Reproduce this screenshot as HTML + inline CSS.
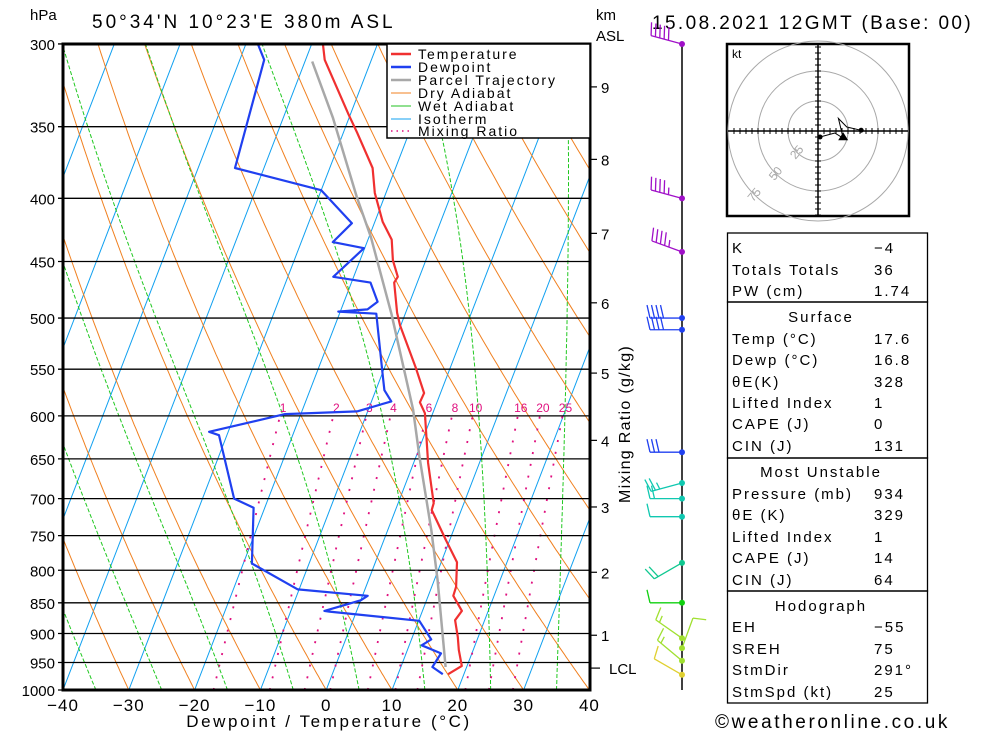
<!DOCTYPE html>
<html><head><meta charset="utf-8"><style>
html,body{margin:0;padding:0;background:#fff;}
svg{display:block;font-family:"Liberation Sans","DejaVu Sans",sans-serif;}
</style></head><body>
<svg id="chart" xmlns="http://www.w3.org/2000/svg" width="1000" height="733" viewBox="0 0 1000 733">
<defs><clipPath id="plotclip"><rect x="63" y="44" width="527" height="646"/></clipPath></defs>
<rect x="0" y="0" width="1000" height="733" fill="#fff"/>
<g id="bg" clip-path="url(#plotclip)"></g>
<g id="grid"></g>
<g id="series" clip-path="url(#plotclip)"></g>
<rect x="63" y="44" width="527" height="646" fill="none" stroke="#000" stroke-width="3"/>
<g id="axes"></g>
<text x="30" y="20" font-size="15">hPa</text>
<text x="92" y="28" font-size="19" letter-spacing="3">50°34'N  10°23'E  380m  ASL</text>
<text x="596" y="20" font-size="15">km</text>
<text x="596" y="41" font-size="15">ASL</text>
<text x="652" y="29" font-size="19" letter-spacing="2.4">15.08.2021  12GMT  (Base: 00)</text>
<text x="329" y="727" font-size="17" letter-spacing="2.6" text-anchor="middle">Dewpoint / Temperature (°C)</text>
<text transform="translate(630,424) rotate(-90)" font-size="16" letter-spacing="1.3" text-anchor="middle">Mixing Ratio (g/kg)</text>
<g>
<rect x="387" y="44" width="203" height="94" fill="#fff" stroke="#000" stroke-width="1.5"/>
<g font-size="14" letter-spacing="2">
<line x1="391" y1="54" x2="411" y2="54" stroke="#f03030" stroke-width="2.5"/><text x="418" y="59">Temperature</text>
<line x1="391" y1="67" x2="411" y2="67" stroke="#2040f0" stroke-width="2.5"/><text x="418" y="72">Dewpoint</text>
<line x1="391" y1="80" x2="411" y2="80" stroke="#a8a8a8" stroke-width="2.5"/><text x="418" y="85">Parcel Trajectory</text>
<line x1="391" y1="93" x2="411" y2="93" stroke="#f08020" stroke-width="1"/><text x="418" y="98">Dry Adiabat</text>
<line x1="391" y1="106" x2="411" y2="106" stroke="#20c020" stroke-width="1"/><text x="418" y="111">Wet Adiabat</text>
<line x1="391" y1="119" x2="411" y2="119" stroke="#10a0f0" stroke-width="1"/><text x="418" y="124">Isotherm</text>
<line x1="391" y1="131" x2="411" y2="131" stroke="#e0107f" stroke-width="1.5" stroke-dasharray="1.5,4"/><text x="418" y="136">Mixing Ratio</text>
</g></g>
<line x1="682" y1="44" x2="682" y2="690" stroke="#000" stroke-width="1.5"/>
<g id="barbs"></g>
<g id="hodo">
<rect x="727" y="44" width="182" height="172" fill="#fff" stroke="#000" stroke-width="2.5"/>
<text x="732" y="58" font-size="12">kt</text>
</g>
<g id="table" font-size="15" letter-spacing="2"></g>
<text x="715" y="728" font-size="19" letter-spacing="2.6">©weatheronline.co.uk</text>
<script>
// ---- data ----
const tempP = [300,309,342,354,378,396,418,432,449,463,468,495,507,548,575,585,597,655,706,715,756,788,825,839,863,878,906,928,956,971];
const tempT = [-38.3,-37.1,-30.3,-27.9,-23.5,-21.7,-18.8,-16.4,-15.0,-13.3,-13.5,-11.3,-10.1,-5.3,-2.5,-2.6,-1.2,2.2,5.4,5.5,9.4,12.4,13.7,13.8,16.0,15.5,16.9,17.8,19.2,17.6];
const dewP = [300,309,378,394,419,434,439,463,468,485,492,494,496,558,572,584,595,598,618,622,700,712,790,829,839,846,863,864,879,910,920,934,958,971];
const dewT = [-48.2,-46.3,-44.4,-30.0,-23.4,-25.2,-20.1,-23.1,-17.1,-14.9,-16.0,-20.3,-14.4,-9.7,-8.7,-7.0,-11.6,-22.4,-32.9,-31.2,-25.2,-21.7,-18.7,-10.2,0.8,0.0,-4.9,-4.1,10.1,13.0,11.9,15.3,14.8,16.8];
const parcelP = [310,344,399,430,496,593,647,742,815,958];
const parcelT = [-38.9,-32.5,-24.2,-19.7,-12.1,-3.2,0.5,6.6,10.5,16.8];
const pressureTicks = [300,350,400,450,500,550,600,650,700,750,800,850,900,950,1000];
const tempTicks = [-40,-30,-20,-10,0,10,20,30,40];
const kmTicks = [1,2,3,4,5,6,7,8,9];
const kmPressures = [903,803,711,628,554,486,427,372,325];
const lclPressure = 960;
const mixRatios = [1,2,3,4,6,8,10,16,20,25];
const barbP = [300,400,442,500,511,642,680,700,724,789,850,908,925,947,972];
const barbDir = [285,285,290,270,270,270,255,270,270,240,270,305,20,310,300];
const barbSpd = [50,45,45,40,40,30,25,20,10,20,10,15,10,15,10];
const hodoU = [1.7,14,21,17,24,36];
const hodoV = [-5,-1.7,-6,10.5,3.3,0.6];
const statLabels = ["K","Totals Totals","PW (cm)","Temp (°C)","Dewp (°C)","θE(K)","Lifted Index","CAPE (J)","CIN (J)","Pressure (mb)","θE (K)","Lifted Index","CAPE (J)","CIN (J)","EH","SREH","StmDir","StmSpd (kt)"];
const statValues = ["−4","36","1.74","17.6","16.8","328","1","0","131","934","329","1","14","64","−55","75","291°","25"];

// ---- axes ----
const NS="http://www.w3.org/2000/svg";
const X0=63, DX=6.58, YB=690, YS=536.6, SKEW=0.385;
function yP(p){return YB - Math.log(1000/p)*YS;}
function xT(t,p){return X0 + (t+40)*DX + SKEW*(YB - yP(p));}
function el(tag,attrs,parent){const e=document.createElementNS(NS,tag);for(const k in attrs)e.setAttribute(k,attrs[k]);parent.appendChild(e);return e;}
function pathFrom(pts){return pts.map((q,i)=>(i?'L':'M')+q[0].toFixed(1)+','+q[1].toFixed(1)).join('');}

const bg=document.getElementById('bg');
const pList=[];for(let p=1000;p>=290;p-=5)pList.push(p);
for(let t=-130;t<=40;t+=10){
  const e=el('path',{d:pathFrom([[xT(t,1000),yP(1000)],[xT(t,290),yP(290)]]),stroke:'#10a0f0','stroke-width':1,fill:'none'},bg);
  
  
}
for(let th=213.15;th<=563.15;th+=10){
  const pts=pList.map(p=>[xT(th*Math.pow(p/1000,0.286)-273.15,p),yP(p)]);
  const e=el('path',{d:pathFrom(pts),stroke:'#f08020','stroke-width':1,fill:'none'},bg);
  
  
}
function es(tc){return 6.112*Math.exp(17.67*tc/(tc+243.5));}
for(let t0=-55;t0<=35;t0+=10){
  let T=t0+273.15;const pts=[];
  for(let p=1000;p>=290;p-=5){
    pts.push([xT(T-273.15,p),yP(p)]);
    const e=es(T-273.15), rs=0.622*e/(p-e);
    const num=287*T+2.5e6*rs, den=1004+2.5e6*2.5e6*rs*0.622/(287*T*T);
    T-= num/den/p*5;
  }
  const e=el('path',{d:pathFrom(pts),stroke:'#20c820','stroke-width':1,fill:'none','stroke-dasharray':'4,2'},bg);
  
  
}
function tdFromW(w,p){const e=w*p/(622+w);const L=Math.log(e/6.112);return 243.5*L/(17.67-L);}
mixRatios.forEach(w=>{
  const pts=[];for(let p=1000;p>=600;p-=10)pts.push([xT(tdFromW(w,p),p),yP(p)]);
  const e=el('path',{d:pathFrom(pts),stroke:'#e0107f','stroke-width':1.8,fill:'none','stroke-dasharray':'2,10'},bg);
  
  
  const t=el('text',{x:xT(tdFromW(w,600),600)+3,y:yP(600)-4,'font-size':12,fill:'#e0107f','text-anchor':'middle'},bg);
  t.textContent=w;
  
  
});

const grid=document.getElementById('grid'), axes=document.getElementById('axes');
pressureTicks.forEach(p=>{
  const y=yP(p);
  const l=el('line',{x1:58,y1:y,x2:590,y2:y,stroke:'#000','stroke-width':1.3},grid);
  
  
  const t=el('text',{x:55,y:y+6,'font-size':15,'text-anchor':'end'},axes);
  t.textContent=p;
  
  
});
tempTicks.forEach(t=>{
  const x=xT(t,1000);
  const tx=el('text',{x:x,y:711,'font-size':17,'text-anchor':'middle','letter-spacing':1},axes);
  tx.textContent=(t<0?'−':'')+Math.abs(t);
  
  
});
kmTicks.forEach((k,i)=>{
  const y=yP(kmPressures[i]);
  const l=el('line',{x1:590,y1:y,x2:597,y2:y,stroke:'#000','stroke-width':1.2},axes);
  
  
  const t=el('text',{x:601,y:y+6,'font-size':15},axes);
  t.textContent=k;
  
  
});
{
  const y=yP(lclPressure);
  const l=el('line',{x1:590,y1:y,x2:600,y2:y,stroke:'#000','stroke-width':1.2},axes);
  
  
  const t=el('text',{x:609,y:y+6,'font-size':15},axes);
  t.textContent='LCL';
  
  
}

const series=document.getElementById('series');
function drawSeries(P,T,color,name,w){
  const e=el('path',{d:pathFrom(P.map((p,i)=>[xT(T[i],p),yP(p)])),stroke:color,'stroke-width':w,fill:'none','stroke-linejoin':'round'},series);
  
  
}
drawSeries(parcelP,parcelT,'#a8a8a8','parcel-trajectory-line',2.5);
drawSeries(dewP,dewT,'#2040f0','dewpoint-line',2.2);
drawSeries(tempP,tempT,'#f03030','temperature-line',2.2);

const barbs=document.getElementById('barbs');
function barbColor(p){if(p<470)return '#a010c8';if(p<660)return '#2040f0';if(p<760)return '#10c8b0';if(p<820)return '#10c890';if(p<880)return '#10d010';if(p<960)return '#a0e030';return '#e0d030';}
barbP.forEach((p,i)=>{
  const y=yP(p), x=682, c=barbColor(p);
  const d=barbDir[i]*Math.PI/180, sx=Math.sin(d), sy=-Math.cos(d);
  const L=32, ex=x+sx*L, ey=y+sy*L;
  const g=el('g',{stroke:c,'stroke-width':1.3,fill:'none'},barbs);
  
  
  el('line',{x1:x,y1:y,x2:ex,y2:ey},g);
  const bx=-sy, by=sx;
  let s=barbSpd[i], k=0;
  while(s>=10){const px=ex-sx*k*4.5, py=ey-sy*k*4.5;el('line',{x1:px,y1:py,x2:px+bx*13+sx*3,y2:py+by*13+sy*3},g);s-=10;k++;}
  if(s>=5){const px=ex-sx*k*4.5, py=ey-sy*k*4.5;el('line',{x1:px,y1:py,x2:px+bx*7+sx*1.5,y2:py+by*7+sy*1.5},g);}
  const dot=el('circle',{cx:x,cy:y,r:3,fill:c},barbs);
  
  
});

const hodo=document.getElementById('hodo');
const HX=818, HY=131, HS=1.2;
[25,50,75].forEach(r=>{
  const c=el('circle',{cx:HX,cy:HY,r:r*HS,fill:'none',stroke:'#a8a8a8','stroke-width':1},hodo);
  
  
  const t=el('text',{x:HX-r*HS*0.707,y:HY+r*HS*0.707+4,'font-size':12,fill:'#a8a8a8','text-anchor':'middle',transform:'rotate(-50 '+(HX-r*HS*0.707)+' '+(HY+r*HS*0.707)+')'},hodo);
  t.textContent=r;
  
  
});
{
  const ax=el('path',{d:'M728,'+HY+'H908M'+HX+',45V215',stroke:'#000','stroke-width':1.5},hodo);
  
  
  let d='';for(let k=-14;k<=14;k++){if(k===0)continue;const o=k*6;d+='M'+(HX+o)+','+(HY-3)+'v6M'+(HX-3)+','+(HY+o)+'h6';}
  const tk=el('path',{d:d,stroke:'#000','stroke-width':1},hodo);
  
  
  const pts=hodoU.map((u,i)=>[HX+u*HS,HY-hodoV[i]*HS]);
  const hl=el('path',{d:pathFrom(pts),stroke:'#000','stroke-width':1,fill:'none'},hodo);
  
  
  [0,pts.length-1].forEach(i=>{const c=el('circle',{cx:pts[i][0],cy:pts[i][1],r:2.5,fill:'#000'},hodo);
    
    });
  const tr=el('path',{d:'M'+(pts[2][0])+','+(pts[2][1]-6)+'l-5,8h10z',fill:'#000'},hodo);
  
  
}

const table=document.getElementById('table');
const boxes=[[233,302],[302,458],[458,591],[591,703]];
boxes.forEach(b=>{const r=el('rect',{x:727.5,y:b[0],width:200,height:b[1]-b[0],fill:'none',stroke:'#000','stroke-width':1.3},table);
  
  });
const headers=[["Surface",316],["Most Unstable",471],["Hodograph",605]];
headers.forEach(h=>{const t=el('text',{x:821,y:h[1]+6,'text-anchor':'middle'},table);t.textContent=h[0];
  
  });
const rowY=[247,269,290,338,359,381,402,423,445,493,514,536,557,579,626,648,669,691];
statLabels.forEach((s,i)=>{
  const t=el('text',{x:732,y:rowY[i]+6},table);t.textContent=s;
  
  
  const v=el('text',{x:874,y:rowY[i]+6},table);v.textContent=statValues[i];
  
  
});
</script>
</svg>
</body></html>
